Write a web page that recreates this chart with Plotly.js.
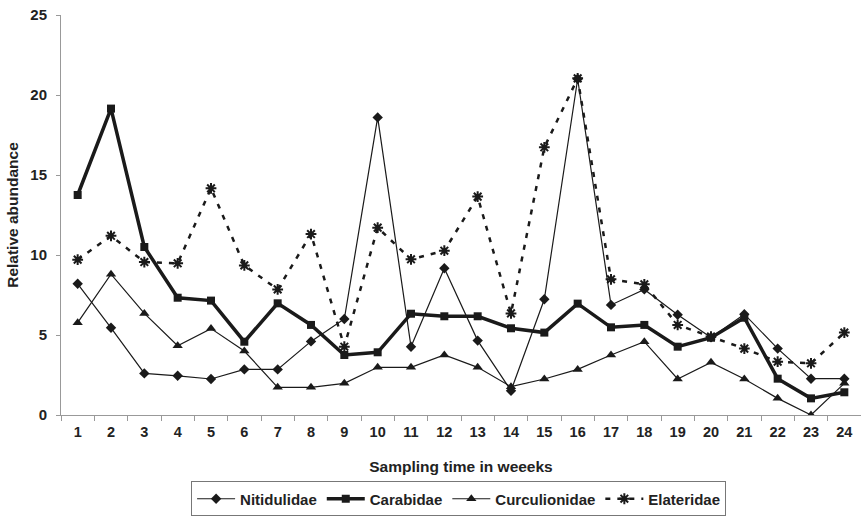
<!DOCTYPE html>
<html><head><meta charset="utf-8">
<script src="https://cdn.plot.ly/plotly-3.0.1.min.js"></script>
<style>body{margin:0;background:#fff}#chart{width:861px;height:517px}</style>
</head><body><div id="chart"></div>
<script>
const weeks = ["1","2","3","4","5","6","7","8","9","10","11","12","13","14","15","16","17","18","19","20","21","22","23","24"];
const nitidulidae = [8.2,5.45,2.6,2.45,2.25,2.85,2.85,4.6,6.0,18.6,4.27,9.17,4.65,1.52,7.23,21.0,6.88,7.85,6.27,4.85,6.3,4.15,2.27,2.27];
const carabidae = [13.75,19.15,10.5,7.33,7.15,4.58,6.98,5.63,3.75,3.92,6.33,6.17,6.17,5.42,5.15,6.96,5.48,5.63,4.27,4.83,6.08,2.27,1.04,1.42];
const curculionidae = [5.77,8.8,6.35,4.33,5.4,4.0,1.73,1.73,1.98,2.98,2.98,3.75,2.98,1.77,2.25,2.85,3.75,4.58,2.25,3.29,2.25,1.04,0.0,1.98];
const elateridae = [9.71,11.2,9.56,9.48,14.17,9.35,7.85,11.31,4.27,11.71,9.73,10.27,13.65,6.35,16.73,21.04,8.48,8.17,5.63,4.9,4.15,3.33,3.23,5.15];
const yTicks = [0,5,10,15,20,25];

const F = "Liberation Sans, Arial, sans-serif";
const C = "#1a1a1a";
const traces = [
  {x: weeks, y: nitidulidae, name: "Nitidulidae", mode: "lines+markers",
   line: {color: C, width: 1.2}, marker: {symbol: "diamond", size: 8, color: C}},
  {x: weeks, y: carabidae, name: "Carabidae", mode: "lines+markers",
   line: {color: C, width: 3.5}, marker: {symbol: "square", size: 8, color: C}},
  {x: weeks, y: curculionidae, name: "Curculionidae", mode: "lines+markers",
   line: {color: C, width: 1.2}, marker: {symbol: "triangle-up", size: 9, color: C}},
  {x: weeks, y: elateridae, name: "Elateridae", mode: "lines+markers",
   line: {color: C, width: 2.5, dash: "5px,7px"},
   marker: {symbol: "asterisk-open", size: 9, color: C, line: {color: C, width: 2}}}
];
const layout = {
  width: 861, height: 517,
  margin: {l: 61, r: 0, t: 15, b: 102, autoexpand: false},
  paper_bgcolor: "#fff", plot_bgcolor: "#fff",
  font: {family: F, color: "#000"},
  showlegend: true,
  legend: {orientation: "h", x: 0.497, xref: "paper", xanchor: "center",
    yref: "container", y: 0.001, yanchor: "bottom",
    bordercolor: "#777", borderwidth: 1, font: {family: F, size: 15, color: "#222", weight: "bold"},
    itemwidth: 38, tracegroupgap: 0},
  xaxis: {type: "category", categoryorder: "array", categoryarray: weeks,
    range: [-0.5, 23.5], showgrid: false, zeroline: false, automargin: false,
    showline: true, linecolor: "#999", linewidth: 1,
    ticks: "outside", tickson: "boundaries", ticklen: 5, tickcolor: "#999",
    ticklabelstandoff: 4,
    tickfont: {family: F, size: 14.5, weight: "bold", color: "#222"},
    title: {text: "Sampling time in weeeks", font: {family: F, size: 15.5, weight: "bold", color: "#222"}, standoff: 21}},
  yaxis: {range: [0, 25], tickvals: yTicks, showgrid: false, zeroline: false, automargin: false,
    showline: true, linecolor: "#999", linewidth: 1,
    ticks: "outside", ticklen: 4, tickcolor: "#999",
    ticklabelstandoff: 6,
    tickfont: {family: F, size: 15, weight: "bold", color: "#222"},
    title: {text: "Relative abundance", font: {family: F, size: 15.5, weight: "bold", color: "#222"}, standoff: 7}}
};
Plotly.newPlot("chart", traces, layout, {displayModeBar: false, staticPlot: true});
</script></body></html>
